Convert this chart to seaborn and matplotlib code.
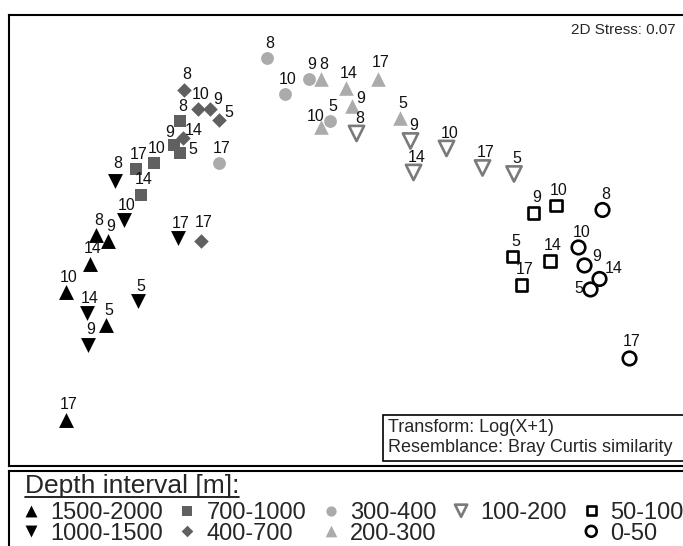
import matplotlib.pyplot as plt
from matplotlib.lines import Line2D
from matplotlib.patches import Rectangle
import pandas as pd
import seaborn as sns

sns.set_theme(style='white')
plt.rcParams['font.family'] = ['Liberation Sans', 'DejaVu Sans']

# ---------------- data: nMDS coordinates per sample ----------------
depth_groups = ['1500-2000', '1000-1500', '700-1000', '400-700', '300-400',
                '200-300', '100-200', '50-100', '0-50']
group_sites = [
    [5, 8, 9, 10, 14, 17],   # 1500-2000
    [5, 8, 9, 10, 14, 17],   # 1000-1500
    [5, 8, 9, 10, 14, 17],   # 700-1000
    [5, 8, 9, 10, 14, 17],   # 400-700
    [5, 8, 9, 10, 17],       # 300-400
    [5, 8, 9, 10, 14, 17],   # 200-300
    [5, 8, 9, 10, 14, 17],   # 100-200
    [5, 9, 10, 14, 17],      # 50-100
    [5, 8, 9, 10, 14, 17],   # 0-50
]
mds1 = [-1.56, -1.63, -1.55, -1.83, -1.67, -1.83,
        -1.35, -1.50, -1.68, -1.44, -1.69, -1.08,
        -1.07, -1.07, -1.11, -1.24, -1.33, -1.36,
        -0.81, -1.04, -0.87, -0.95, -1.05, -0.93,
        -0.07, -0.49, -0.21, -0.37, -0.81,
        0.40, -0.13, 0.08, -0.13, 0.04, 0.25,
        1.16, 0.11, 0.47, 0.71, 0.49, 0.95,
        1.15, 1.29, 1.44, 1.40, 1.21,
        1.67, 1.75, 1.63, 1.59, 1.73, 1.93]
mds2 = [-0.57, 0.03, -0.01, -0.35, -0.16, -1.20,
        -0.41, 0.39, -0.70, 0.13, -0.49, 0.01,
        0.58, 0.79, 0.63, 0.51, 0.30, 0.47,
        0.80, 1.00, 0.87, 0.87, 0.68, -0.01,
        0.79, 1.21, 1.07, 0.97, 0.51,
        0.81, 1.07, 0.89, 0.75, 1.01, 1.07,
        0.44, 0.71, 0.66, 0.61, 0.45, 0.48,
        -0.11, 0.18, 0.23, -0.14, -0.30,
        -0.33, 0.20, -0.17, -0.05, -0.26, -0.79]
stress = 0.07

depth = [g for g, s in zip(depth_groups, group_sites) for _ in s]
site = [x for s in group_sites for x in s]
df = pd.DataFrame({'depth': depth, 'site': site, 'mds1': mds1, 'mds2': mds2})

# ---------------- styles ----------------
markers = ['^', 'v', 's', 'D', 'o', '^', 'v', 's', 'o']
face_cols = ['black', 'black', '#606060', '#606060', '#ababab', '#ababab', 'none', 'none', 'none']
edge_cols = ['black', 'black', '#606060', '#606060', '#ababab', '#ababab', '#7a7a7a', 'black', 'black']
sizes = [115, 115, 80, 55, 85, 110, 120, 65, 95]
widths = [0, 0, 0, 0, 0, 0, 1.9, 1.9, 1.9]

# label offsets in pixels (right, up); default is just above the marker
label_offsets = {
    ('1000-1500', 8): (3, 18),
    ('700-1000', 9): (-4, 13),
    ('700-1000', 5): (13, 3),
    ('400-700', 14): (11, 7),
    ('400-700', 9): (8, 10),
    ('400-700', 5): (10, 7),
    ('400-700', 17): (3, 19),
    ('200-300', 9): (9, 8),
    ('200-300', 10): (-5, 11),
    ('200-300', 17): (3, 17),
    ('0-50', 9): (12, 9),
    ('0-50', 14): (14, 10),
    ('0-50', 5): (-12, 1),
    ('0-50', 17): (2, 17),
}

W, H = 683, 546
fig = plt.figure(figsize=(W / 100, H / 100), dpi=100)
ax = fig.add_axes([9 / W, 1 - 466 / H, (700 - 9) / W, (466 - 15) / H])

for g, m, fc, ec, s, lw in zip(depth_groups, markers, face_cols, edge_cols, sizes, widths):
    sub = df[df['depth'] == g]
    sns.scatterplot(data=sub, x='mds1', y='mds2', marker=m, s=s, facecolor=fc,
                    edgecolor=ec, linewidth=lw, label=g, legend=False, ax=ax, zorder=3)

for row in df.itertuples():
    dx, dy = label_offsets.get((row.depth, row.site), (3, 15))
    ax.annotate(str(row.site), (row.mds1, row.mds2), xytext=(dx * 0.72, dy * 0.72),
                textcoords='offset points', ha='center', va='center', fontsize=11.5, color='#111111')

ax.set_xlim(-2.207, 2.4)
ax.set_ylim(-1.507, 1.5)
ax.set_xticks([])
ax.set_yticks([])
ax.set_xlabel('')
ax.set_ylabel('')
for sp in ax.spines.values():
    sp.set_color('black')
    sp.set_linewidth(1.5)

fig.text(676 / W, 1 - 30 / H, f'2D Stress: {stress:.2f}', ha='right', va='center', fontsize=11)

# transform / resemblance box
fig.patches.append(Rectangle((383 / W, 1 - 461 / H), (720 - 383) / W, 46 / H,
                             transform=fig.transFigure, facecolor='white', edgecolor='black', lw=1.2))
fig.text(388 / W, 1 - 427 / H, 'Transform: Log(X+1)', fontsize=13, va='center')
fig.text(388 / W, 1 - 448 / H, 'Resemblance: Bray Curtis similarity', fontsize=13, va='center')

# legend panel
leg_ax = fig.add_axes([9 / W, -0.05, 1.0, 1 - 471 / H + 0.05])
leg_ax.set_xticks([])
leg_ax.set_yticks([])
for sp in leg_ax.spines.values():
    sp.set_color('black')
    sp.set_linewidth(1.5)

title = fig.text(25 / W, 1 - 493 / H, 'Depth interval [m]:', fontsize=19, va='baseline')

handles, labels = ax.get_legend_handles_labels()
blank = Line2D([], [], linestyle='none')
handles = handles[:7] + [blank] + handles[7:]
labels = labels[:7] + [''] + labels[7:]
fig.legend(handles, labels, ncol=5, loc='upper left', bbox_to_anchor=(21.6 / W, 1 - 502 / H),
           frameon=False, fontsize=17, markerscale=0.8, handlelength=0.8, handletextpad=0.4,
           columnspacing=0.65, labelspacing=-0.06, borderpad=0, borderaxespad=0,
           scatterpoints=1, scatteryoffsets=[0.5])

fig.canvas.draw()
bb = title.get_window_extent()
fig.lines.append(Line2D([bb.x0 / W, bb.x1 / W], [1 - 497 / H, 1 - 497 / H],
                        transform=fig.transFigure, color='black', lw=1.2))

fig.savefig('out.png', dpi=100)
